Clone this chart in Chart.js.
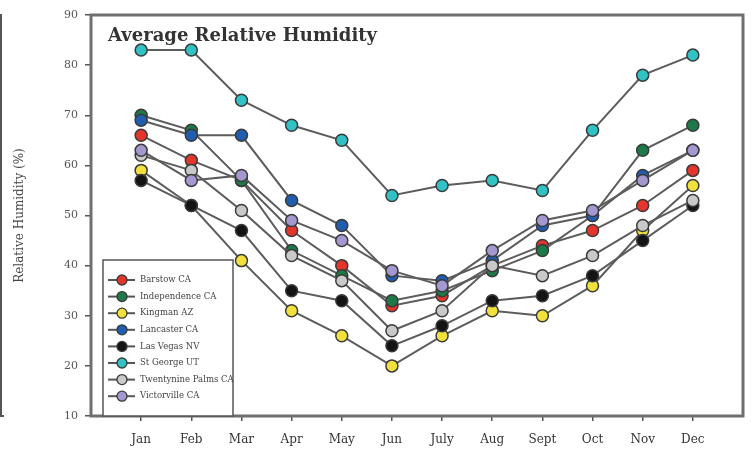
<!DOCTYPE html>
<html>
<head>
<meta charset="utf-8">
<script src="https://cdn.jsdelivr.net/npm/chart.js@4/dist/chart.umd.min.js"></script>
<style>
html,body{margin:0;padding:0;background:#fff;}
#wrap{width:752px;height:454px;position:relative;}
</style>
</head>
<body>
<div id="wrap"><canvas id="c" width="752" height="454"></canvas></div>
<script>
const months = ['Jan','Feb','Mar','Apr','May','Jun','July','Aug','Sept','Oct','Nov','Dec'];
const yTicks = [10,20,30,40,50,60,70,80,90];
const titleText = 'Average Relative Humidity';
const yTitle = 'Relative Humidity (%)';

const stations = ['Barstow CA','Independence CA','Kingman AZ','Lancaster CA','Las Vegas NV','St George UT','Twentynine Palms CA','Victorville CA'];
const colors = ['#e2352c','#1d7a48','#f2e13c','#1f5db0','#141414','#31c2c6','#c9c9c9','#a597cf'];

const barstow      = [66,61,57,47,40,32,34,40,44,47,52,59];
const independence = [70,67,57,43,38,33,35,39,43,50,63,68];
const kingman      = [59,52,41,31,26,20,26,31,30,36,47,56];
const lancaster    = [69,66,66,53,48,38,37,41,48,50,58,63];
const lasVegas     = [57,52,47,35,33,24,28,33,34,38,45,52];
const stGeorge     = [83,83,73,68,65,54,56,57,55,67,78,82];
const twentynine   = [62,59,51,42,37,27,31,40,38,42,48,53];
const victorville  = [63,57,58,49,45,39,36,43,49,51,57,63];

const series = [barstow,independence,kingman,lancaster,lasVegas,stGeorge,twentynine,victorville];

const datasets = series.map((vals,i)=>({
  label: stations[i],
  data: vals.map((v,j)=>({x:j,y:v})),
  borderColor:'#5c5c5c',
  borderWidth:2,
  pointBackgroundColor: colors[i],
  pointBorderColor:'#3a3a3a',
  pointBorderWidth:1.5,
  pointRadius:6,
  pointHoverRadius:6,
  tension:0,
  order: series.length - i
}));

const serif = "'DejaVu Serif', 'Liberation Serif', serif";

const framePlugin = {
  id:'frame',
  beforeDatasetsDraw(chart){
    const {ctx, chartArea:a} = chart;
    ctx.save();
    ctx.strokeStyle='#6f6f6f';
    ctx.lineWidth=3;
    ctx.strokeRect(a.left, a.top, a.right-a.left, a.bottom-a.top);
    // cropped neighbour frame on far left
    ctx.lineWidth=2;
    ctx.strokeStyle='#555';
    ctx.beginPath();
    ctx.moveTo(1,14); ctx.lineTo(1,416); ctx.lineTo(4,416);
    ctx.stroke();
    ctx.restore();
  },
  afterDatasetsDraw(chart){
    const {ctx} = chart;
    ctx.save();
    // title
    ctx.fillStyle='#333';
    ctx.font="bold 18px "+serif;
    ctx.textBaseline='alphabetic';
    ctx.textAlign='left';
    ctx.fillText(titleText, 108, 41);
    // legend
    const bx=103, by=260, bw=130, bh=156;
    ctx.fillStyle='#fff';
    ctx.fillRect(bx,by,bw,bh);
    ctx.strokeStyle='#555';
    ctx.lineWidth=1.5;
    ctx.strokeRect(bx,by,bw,bh);
    ctx.beginPath();
    ctx.rect(bx,by,bw,bh);
    ctx.clip();
    chart.data.datasets.forEach((ds,i)=>{
      const y = 280 + i*16.6;
      ctx.strokeStyle='#555';
      ctx.lineWidth=2;
      ctx.beginPath(); ctx.moveTo(108,y); ctx.lineTo(135,y); ctx.stroke();
      ctx.beginPath(); ctx.arc(122,y,5,0,Math.PI*2);
      ctx.fillStyle=ds.pointBackgroundColor; ctx.fill();
      ctx.strokeStyle='#3a3a3a'; ctx.lineWidth=1.3; ctx.stroke();
      ctx.fillStyle='#444';
      ctx.font="8.5px "+serif;
      ctx.textBaseline='middle';
      ctx.fillText(ds.label, 140, y);
    });
    ctx.restore();
  }
};

new Chart(document.getElementById('c'), {
  type:'line',
  data:{datasets},
  options:{
    responsive:false,
    animation:false,
    events:[],
    layout:{padding:{top:15,right:9,left:0,bottom:0}},
    plugins:{legend:{display:false}, title:{display:false}, tooltip:{enabled:false}},
    scales:{
      x:{
        type:'linear',
        min:-1, max:12,
        afterBuildTicks(scale){ scale.ticks = months.map((m,i)=>({value:i})); },
        afterFit(scale){ scale.height = 38; },
        grid:{display:true, drawOnChartArea:false, drawTicks:true, tickLength:5, color:'#555', lineWidth:1.5},
        border:{display:false},
        ticks:{
          autoSkip:false, maxRotation:0, padding:12,
          color:'#333',
          font:{family:serif, size:12},
          callback:(v)=> months[v] ?? ''
        }
      },
      y:{
        min:10, max:90,
        afterBuildTicks(scale){ scale.ticks = yTicks.map(v=>({value:v})); },
        afterFit(scale){ scale.width = 91; },
        grid:{display:true, drawOnChartArea:false, drawTicks:true, tickLength:6, color:'#555', lineWidth:1.5},
        border:{display:false},
        title:{display:true, text:yTitle, color:'#444', font:{family:serif, size:12}, padding:{top:13,bottom:0}},
        ticks:{padding:7, color:'#555', font:{family:serif, size:11}}
      }
    }
  },
  plugins:[framePlugin]
});
</script>
</body>
</html>
